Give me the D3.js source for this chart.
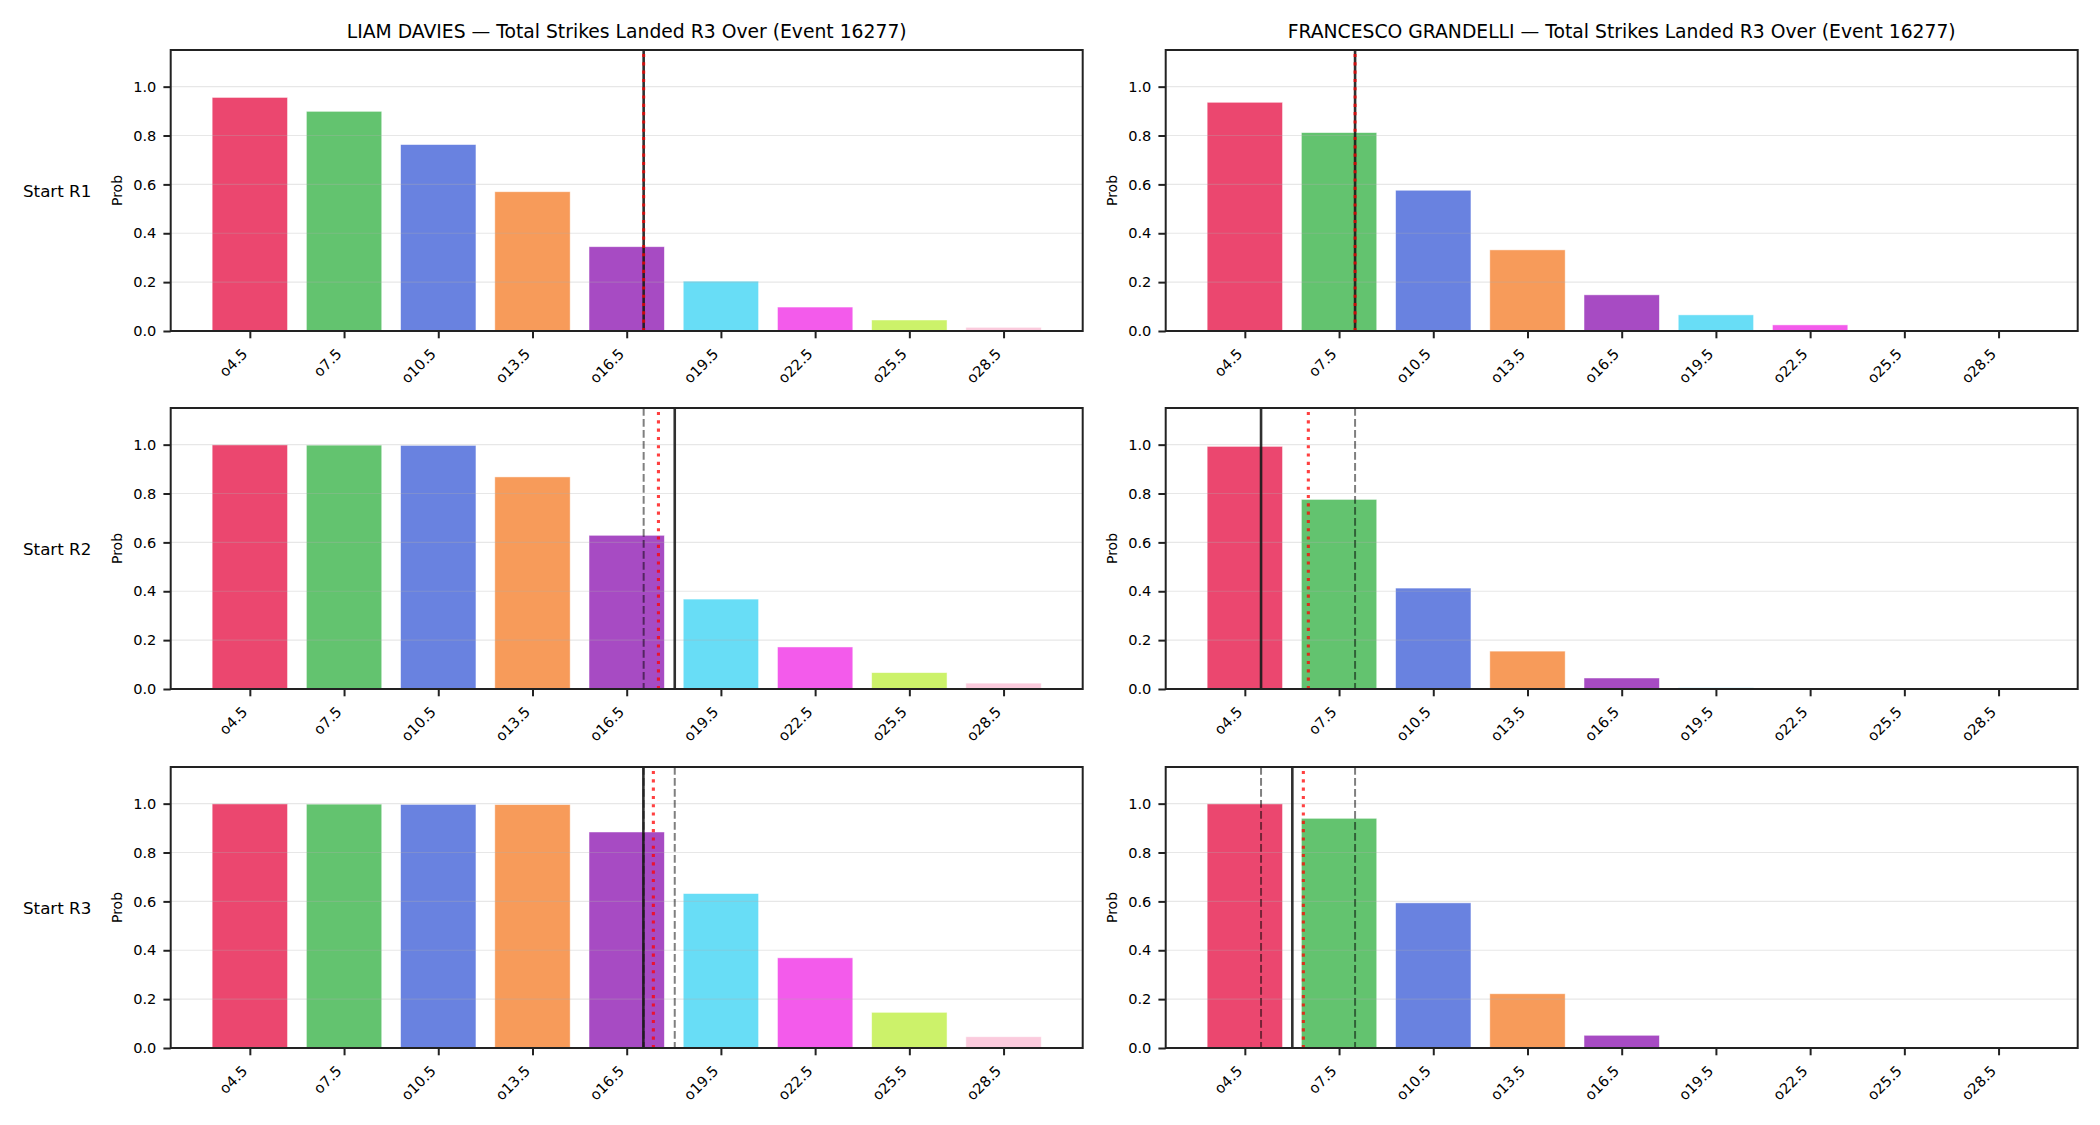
<!DOCTYPE html>
<html>
<head>
<meta charset="utf-8">
<script src="https://cdn.jsdelivr.net/npm/d3@7"></script>
<style>
  html, body { margin: 0; padding: 0; background: #fff; }
  svg { display: block; font-family: "DejaVu Sans", sans-serif; }
</style>
</head>
<body>
<svg id="chart" width="2100" height="1125"></svg>
<script>
// ---- Data ----
const categories = ["o4.5", "o7.5", "o10.5", "o13.5", "o16.5", "o19.5", "o22.5", "o25.5", "o28.5"];
const barColors = ["#e6194b", "#3cb44b", "#4363d8", "#f58231", "#911eb4", "#42d4f4", "#f032e6", "#bfef45", "#fabed4"];
const fighters = ["LIAM DAVIES", "FRANCESCO GRANDELLI"];
const rowLabels = ["Start R1", "Start R2", "Start R3"];
const yTicks = [0.0, 0.2, 0.4, 0.6, 0.8, 1.0];

const daviesR1 = [0.956, 0.899, 0.763, 0.570, 0.345, 0.204, 0.098, 0.045, 0.015];
const daviesR2 = [0.999, 0.998, 0.997, 0.868, 0.629, 0.368, 0.172, 0.067, 0.024];
const daviesR3 = [0.999, 0.998, 0.997, 0.996, 0.884, 0.632, 0.369, 0.146, 0.046];
const grandelliR1 = [0.936, 0.812, 0.576, 0.332, 0.148, 0.066, 0.025, 0.003, 0.001];
const grandelliR2 = [0.993, 0.776, 0.413, 0.155, 0.045, 0.005, 0.004, 0.002, 0.001];
const grandelliR3 = [0.999, 0.940, 0.594, 0.222, 0.052, 0.004, 0.002, 0.001, 0.001];

// vertical reference lines, in category-index units
const daviesSolid = [4.18, 4.51, 4.177];
const daviesDotted = [4.18, 4.337, 4.283];
const grandelliSolid = [1.17, 0.172, 0.504];
const grandelliDotted = [1.17, 0.674, 0.621];

const panelValues = [[daviesR1, grandelliR1], [daviesR2, grandelliR2], [daviesR3, grandelliR3]];
const solidLines = [daviesSolid, grandelliSolid];
const dottedLines = [daviesDotted, grandelliDotted];

// ---- Layout ----
const svg = d3.select("#chart");
const colLeft = [170.7, 1165.7];
const rowTop = [50, 408, 767];
const pw = 912, ph = 281;
const tickFont = 14.6;

const x = d3.scaleLinear().domain([-0.84, categories.length - 1 + 0.84]).range([0, pw]);
const y = d3.scaleLinear().domain([0, 1.15]).range([ph, 0]);

for (let r = 0; r < 3; r++) {
  for (let c = 0; c < 2; c++) {
    const vals = panelValues[r][c];
    const g = svg.append("g").attr("transform", `translate(${colLeft[c]},${rowTop[r]})`);

    // bars
    g.selectAll("rect.bar").data(vals).join("rect")
      .attr("class", "bar")
      .attr("x", (d, i) => x(i - 0.4))
      .attr("width", (d, i) => x(i + 0.4) - x(i - 0.4))
      .attr("y", d => y(d))
      .attr("height", d => y(0) - y(d))
      .attr("fill", (d, i) => barColors[i])
      .attr("fill-opacity", 0.8)
      .attr("stroke", "#ffffff")
      .attr("stroke-opacity", 0.6)
      .attr("stroke-width", 0.8);

    // grid (drawn above bars)
    g.selectAll("line.grid").data(yTicks).join("line")
      .attr("class", "grid")
      .attr("x1", 0).attr("x2", pw)
      .attr("y1", d => y(d)).attr("y2", d => y(d))
      .attr("stroke", "#b0b0b0").attr("stroke-opacity", 0.3).attr("stroke-width", 1.2);

    // dashed previous-start lines
    const prev = solidLines[c].slice(0, r);
    g.selectAll("line.prev").data(prev).join("line")
      .attr("class", "prev")
      .attr("x1", d => x(d)).attr("x2", d => x(d))
      .attr("y1", 0).attr("y2", ph)
      .attr("stroke", "#000").attr("stroke-opacity", 0.5)
      .attr("stroke-width", 2).attr("stroke-dasharray", "7.7,3.3");

    // solid line
    const sv = solidLines[c][r];
    g.append("line")
      .attr("x1", x(sv)).attr("x2", x(sv)).attr("y1", 0).attr("y2", ph)
      .attr("stroke", "#1a1a1a").attr("stroke-opacity", 0.9).attr("stroke-width", 2.6);

    // dotted line
    const dv = dottedLines[c][r];
    g.append("line")
      .attr("x1", x(dv)).attr("x2", x(dv)).attr("y1", ph).attr("y2", 0)
      .attr("stroke", "#ff0000").attr("stroke-opacity", 0.75)
      .attr("stroke-width", 3.1).attr("stroke-dasharray", "3.1,5.2");

    // y axis
    const ya = g.append("g").call(d3.axisLeft(y).tickValues(yTicks).tickFormat(d3.format(".1f")).tickSize(7.3).tickPadding(7));
    ya.select(".domain").remove();
    ya.selectAll(".tick line").attr("stroke", "#222").attr("stroke-width", 2);
    ya.selectAll(".tick text").attr("font-size", tickFont).attr("fill", "#000")
      .attr("font-family", "DejaVu Sans");

    // x axis
    const xa = g.append("g").attr("transform", `translate(0,${ph})`)
      .call(d3.axisBottom(x).tickValues(d3.range(categories.length)).tickFormat(i => categories[i]).tickSize(7.3));
    xa.select(".domain").remove();
    xa.selectAll(".tick line").attr("stroke", "#222").attr("stroke-width", 2);
    xa.selectAll(".tick text")
      .attr("font-size", tickFont).attr("fill", "#000").attr("font-family", "DejaVu Sans")
      .attr("text-anchor", "end")
      .attr("dy", null).attr("y", null)
      .attr("transform", "translate(-2,24) rotate(-45)");

    // frame
    g.append("rect").attr("x", 0).attr("y", 0).attr("width", pw).attr("height", ph)
      .attr("fill", "none").attr("stroke", "#222").attr("stroke-width", 2);

    // y label
    g.append("text")
      .attr("transform", `translate(-54,${ph / 2}) rotate(-90)`)
      .attr("text-anchor", "middle").attr("dominant-baseline", "central")
      .attr("font-size", 14).attr("fill", "#000").text("Prob");

    // title
    if (r === 0) {
      g.append("text").attr("x", pw / 2).attr("y", -12.5)
        .attr("text-anchor", "middle").attr("font-size", 18.75).attr("fill", "#000")
        .text(`${fighters[c]} — Total Strikes Landed R3 Over (Event 16277)`);
    }
  }
  // row label
  svg.append("text").attr("x", 23).attr("y", rowTop[r] + ph / 2)
    .attr("dominant-baseline", "central").attr("font-size", 16.7).attr("fill", "#000")
    .text(rowLabels[r]);
}
</script>
</body>
</html>
